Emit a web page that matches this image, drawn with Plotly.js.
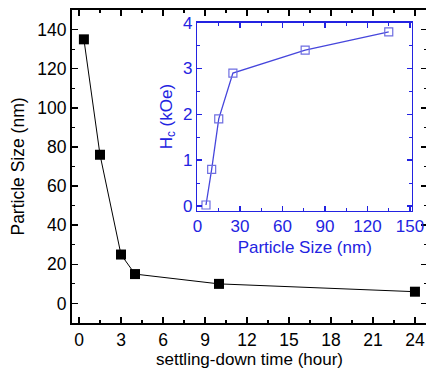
<!DOCTYPE html>
<html><head><meta charset="utf-8">
<script src="https://cdn.plot.ly/plotly-3.0.1.min.js"></script>
<style>html,body{margin:0;padding:0;overflow:hidden;background:#fff}#plot{width:427px;height:369px}</style>
</head><body><div id="plot"></div>
<script>
// Main series: particle size vs settling-down time
var settlingTime = [0.35, 1.5, 3, 4, 10, 24];
var particleSize = [135, 76, 25, 15, 10, 6];
// Inset series: coercivity vs particle size
var insetSize = [6, 10, 15, 25, 76, 135];
var coercivity = [0.02, 0.8, 1.9, 2.9, 3.4, 3.8];

var mainTickVals = [0, 3, 6, 9, 12, 15, 18, 21, 24];
var mainYTickVals = [0, 20, 40, 60, 80, 100, 120, 140];

var FONT = 'Liberation Sans, Arial, sans-serif';
var BLUE = 'rgb(35,35,225)';

var traces = [
  {x: settlingTime, y: particleSize, xaxis: 'x', yaxis: 'y', mode: 'lines+markers',
   line: {color: '#000', width: 1},
   marker: {symbol: 'square', size: 10, color: '#000'}},
  {x: insetSize, y: coercivity, xaxis: 'x2', yaxis: 'y2', mode: 'lines+markers',
   line: {color: 'rgb(70,70,220)', width: 1.3},
   marker: {symbol: 'square-open', size: 8, color: 'rgb(110,110,225)', line: {width: 1.2}}}
];

var layout = {
  width: 427, height: 369,
  margin: {l: 72, r: 0, t: 10, b: 46},
  showlegend: false,
  paper_bgcolor: '#fff', plot_bgcolor: '#fff',
  font: {family: FONT, size: 17, color: '#000'},
  xaxis: {
    domain: [0, 1], range: [-0.5, 24.86], tickvals: mainTickVals,
    ticks: 'inside', ticklen: 6, tickwidth: 1.5, tickcolor: '#000',
    minor: {dtick: 1.5, tick0: 0, ticks: 'inside', ticklen: 3, tickwidth: 1.2, tickcolor: '#000'},
    showline: true, linewidth: 2, linecolor: '#000', mirror: 'ticks',
    showgrid: false, zeroline: false,
    tickfont: {size: 17.5, family: FONT},
    title: {text: 'settling-down time (hour)', font: {size: 17, family: FONT}, standoff: 16}
  },
  yaxis: {
    domain: [0, 1], range: [-10, 150], tickvals: mainYTickVals,
    ticks: 'inside', ticklen: 6, tickwidth: 1.5, tickcolor: '#000',
    minor: {dtick: 10, tick0: 0, ticks: 'inside', ticklen: 3, tickwidth: 1.2, tickcolor: '#000'},
    showline: true, linewidth: 2, linecolor: '#000', mirror: 'ticks',
    showgrid: false, zeroline: false,
    tickfont: {size: 17.5, family: FONT},
    title: {text: 'Particle Size (nm)', font: {size: 17.5, family: FONT}, standoff: 8}
  },
  xaxis2: {
    domain: [0.3535, 0.9577], anchor: 'y2', range: [0, 151.4], dtick: 30, tick0: 0,
    ticks: 'inside', ticklen: 5, tickwidth: 1.3, tickcolor: BLUE,
    minor: {dtick: 15, tick0: 0, ticks: 'inside', ticklen: 3, tickwidth: 1, tickcolor: BLUE},
    showline: true, linewidth: 1.5, linecolor: BLUE, mirror: 'ticks',
    showgrid: false, zeroline: false,
    tickfont: {size: 17, family: FONT, color: BLUE},
    title: {text: 'Particle Size (nm)', font: {size: 17, family: FONT, color: BLUE}, standoff: 5}
  },
  yaxis2: {
    domain: [0.3594, 0.9594], anchor: 'x2', range: [-0.1, 4], dtick: 1, tick0: 0,
    ticks: 'inside', ticklen: 5, tickwidth: 1.3, tickcolor: BLUE,
    minor: {dtick: 0.5, tick0: 0, ticks: 'inside', ticklen: 3, tickwidth: 1, tickcolor: BLUE},
    showline: true, linewidth: 1.5, linecolor: BLUE, mirror: 'ticks',
    showgrid: false, zeroline: false,
    tickfont: {size: 17, family: FONT, color: BLUE},
    title: {text: 'H<sub>c</sub> (kOe)', font: {size: 17, family: FONT, color: BLUE}, standoff: 6}
  }
};

Plotly.newPlot('plot', traces, layout, {staticPlot: true, displayModeBar: false});
</script></body></html>
